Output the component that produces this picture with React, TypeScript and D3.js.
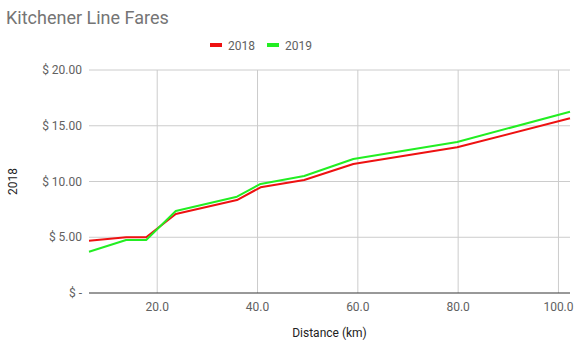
import { useEffect, useRef } from 'react'
import * as d3 from 'd3'

// distance (km) and fares
const distances = [6.4, 13.8, 17.8, 23.7, 35.9, 40.6, 49.3, 59.1, 79.8, 102.3]
const fares2018 = [4.69, 5.0, 5.0, 7.08, 8.34, 9.48, 10.13, 11.57, 13.07, 15.67]
const fares2019 = [3.7, 4.75, 4.75, 7.35, 8.64, 9.78, 10.49, 12.02, 13.54, 16.26]
const xTicks = [20, 40, 60, 80, 100]
const yTicks = [0, 5, 10, 15, 20]
const seriesNames = ['2018', '2019']
const seriesColors = ['#ee1111', '#22ee22']

const width = 579
const height = 353
const margin = { top: 70, right: 9, bottom: 60, left: 89 }

export default function App() {
  const svgRef = useRef<SVGSVGElement>(null)

  useEffect(() => {
    if (!svgRef.current) return
    const svg = d3.select(svgRef.current)
    svg.selectAll('*').remove()

    const innerWidth = width - margin.left - margin.right
    const innerHeight = height - margin.top - margin.bottom
    const font = 'Roboto, "Noto Sans", sans-serif'

    const x = d3.scaleLinear()
      .domain(d3.extent(distances) as [number, number])
      .range([0, innerWidth])
    const y = d3.scaleLinear().domain([0, 20]).range([innerHeight, 0])

    // Title
    svg.append('text')
      .attr('x', 6)
      .attr('y', 24)
      .style('font-family', font)
      .style('font-size', '18px')
      .style('fill', '#757575')
      .text('Kitchener Line Fares')

    // Legend
    const legend = svg.append('g').attr('transform', 'translate(210,45)')
    seriesNames.forEach((name, i) => {
      const lg = legend.append('g').attr('transform', `translate(${i * 57},0)`)
      lg.append('rect')
        .attr('x', 0).attr('y', -2)
        .attr('width', 12).attr('height', 4)
        .attr('fill', seriesColors[i])
      lg.append('text')
        .attr('x', 18).attr('y', 4.5)
        .style('font-family', font)
        .style('font-size', '12px')
        .style('fill', '#616161')
        .text(name)
    })

    const g = svg.append('g')
      .attr('transform', `translate(${margin.left},${margin.top})`)

    // Grid
    g.selectAll('.hgrid')
      .data(yTicks.filter(t => t > 0))
      .enter().append('line')
      .attr('x1', 0).attr('x2', innerWidth)
      .attr('y1', d => y(d)).attr('y2', d => y(d))
      .attr('stroke', '#cccccc')
      .attr('stroke-width', 1)

    g.selectAll('.vgrid')
      .data(xTicks)
      .enter().append('line')
      .attr('x1', d => x(d)).attr('x2', d => x(d))
      .attr('y1', 0).attr('y2', innerHeight)
      .attr('stroke', '#cccccc')
      .attr('stroke-width', 1)

    // Baseline
    g.append('line')
      .attr('x1', 0).attr('x2', innerWidth)
      .attr('y1', y(0)).attr('y2', y(0))
      .attr('stroke', '#333333')
      .attr('stroke-width', 1)

    // Y tick labels
    g.selectAll('.ylab')
      .data(yTicks)
      .enter().append('text')
      .attr('x', -7)
      .attr('y', d => y(d) + 4)
      .attr('text-anchor', 'end')
      .style('font-family', font)
      .style('font-size', '12px')
      .style('fill', '#616161')
      .text(d => (d === 0 ? '$ -' : `$ ${d.toFixed(2)}`))

    // X tick labels
    g.selectAll('.xlab')
      .data(xTicks)
      .enter().append('text')
      .attr('x', d => x(d))
      .attr('y', innerHeight + 18)
      .attr('text-anchor', 'middle')
      .style('font-family', font)
      .style('font-size', '12px')
      .style('fill', '#616161')
      .text(d => d.toFixed(1))

    // Axis titles
    svg.append('text')
      .attr('x', margin.left + innerWidth / 2)
      .attr('y', 337)
      .attr('text-anchor', 'middle')
      .style('font-family', font)
      .style('font-size', '12px')
      .style('fill', '#222222')
      .text('Distance (km)')

    svg.append('text')
      .attr('transform', `translate(17,${margin.top + innerHeight / 2}) rotate(-90)`)
      .attr('text-anchor', 'middle')
      .style('font-family', font)
      .style('font-size', '12px')
      .style('fill', '#222222')
      .text('2018')

    // Lines
    const line = d3.line<number>()
      .x((d, i) => x(distances[i]))
      .y(d => y(d))

    ;[fares2018, fares2019].forEach((values, i) => {
      g.append('path')
        .datum(values)
        .attr('fill', 'none')
        .attr('stroke', seriesColors[i])
        .attr('stroke-width', 2)
        .attr('stroke-linejoin', 'round')
        .attr('d', line)
    })
  }, [])

  return (
    <svg
      ref={svgRef}
      width={width}
      height={height}
      style={{ position: 'absolute', left: 0, top: 0, background: '#fff' }}
    />
  )
}
